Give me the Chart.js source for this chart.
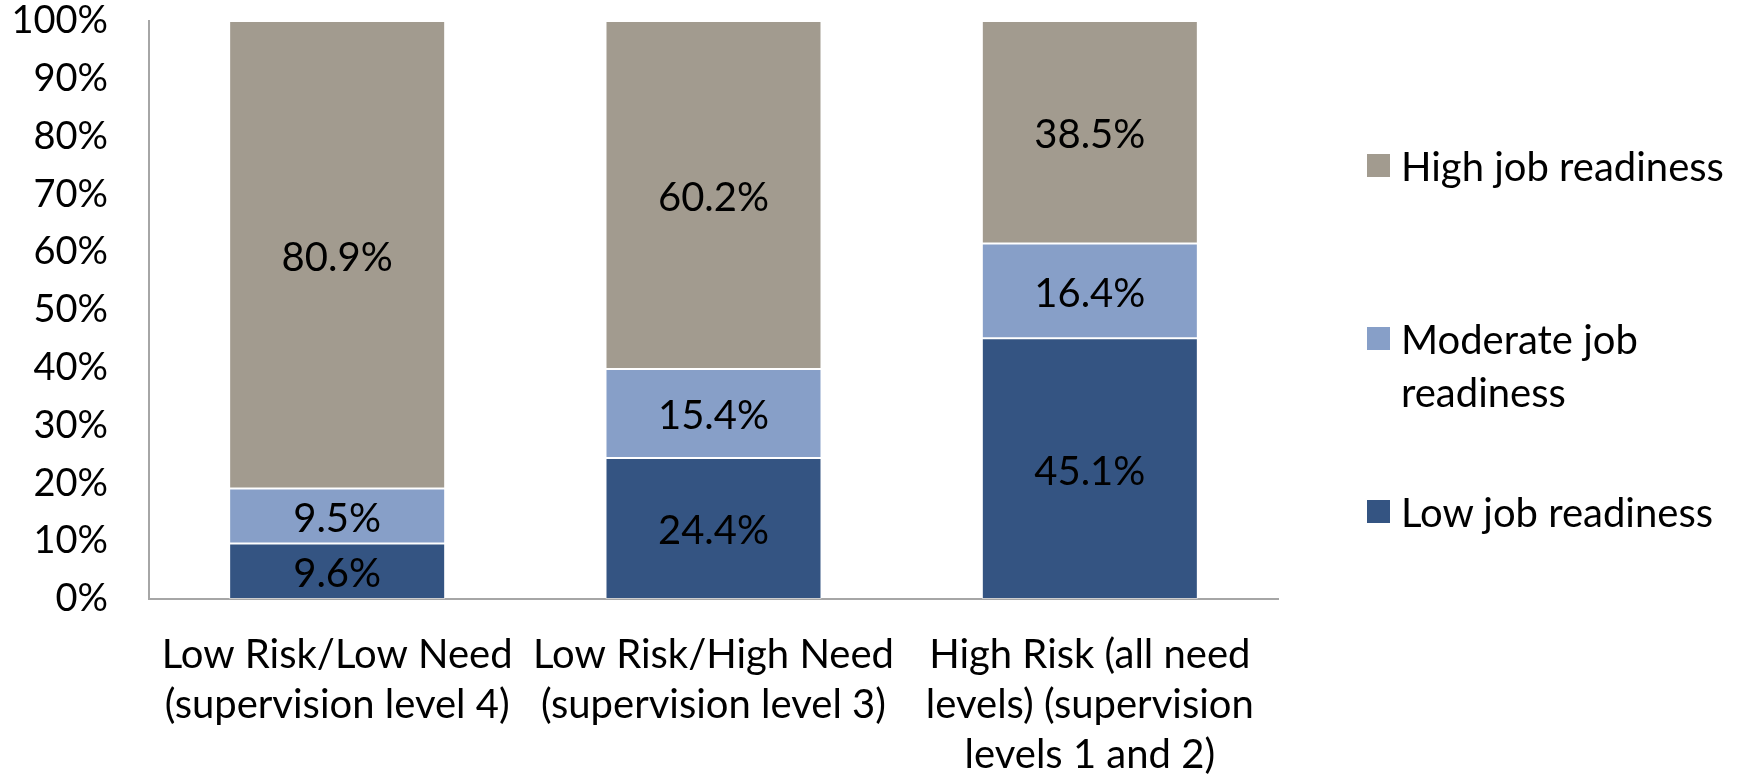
<!DOCTYPE html>
<html>
<head>
<meta charset="utf-8">
<script src="https://cdn.jsdelivr.net/npm/chart.js@4"></script>
<style>
  html, body { margin: 0; padding: 0; background: #fff; }
  #wrap { position: relative; width: 1741px; height: 776px; }
  #c { position: absolute; left: 0; top: 0; }
  .lg { position: absolute; left: 1367px; font-family: Lato, "Open Sans", sans-serif; font-size: 40px; line-height: 53px; color: #000; }
  .lg .sw { position: absolute; left: 0; width: 23px; height: 23px; top: 14px; }
  .lg .tx { position: absolute; left: 34px; white-space: nowrap; }
</style>
</head>
<body>
<div id="wrap">
  <canvas id="c" width="1741" height="776"></canvas>
</div>
<script>
const categories = [
  ["Low Risk/Low Need", "(supervision level 4)"],
  ["Low Risk/High Need", "(supervision level 3)"],
  ["High Risk (all need", "levels) (supervision", "levels 1 and 2)"]
];
const seriesNames = ["Low job readiness", "Moderate job readiness", "High job readiness"];
const lowReady = [9.6, 24.4, 45.1];
const moderateReady = [9.5, 15.4, 16.4];
const highReady = [80.9, 60.2, 38.5];
const yTicks = [0, 10, 20, 30, 40, 50, 60, 70, 80, 90, 100];
const colors = ["#345482", "#879FC8", "#A29B8F"];

const FONT = 'Lato, "Open Sans", sans-serif';

const dataLabels = {
  id: 'dataLabels',
  afterDatasetsDraw(chart) {
    const ctx = chart.ctx;
    ctx.save();
    ctx.font = '40px ' + FONT;
    ctx.fillStyle = '#000';
    ctx.textAlign = 'center';
    ctx.textBaseline = 'middle';
    chart.data.datasets.forEach((ds, i) => {
      const meta = chart.getDatasetMeta(i);
      meta.data.forEach((el, j) => {
        const v = ds.data[j];
        const y = (el.y + el.base) / 2 + 3;
        ctx.fillText(v.toFixed(1) + '%', el.x, y);
      });
    });
    ctx.restore();
  }
};

const chart = new Chart(document.getElementById('c'), {
  type: 'bar',
  data: {
    labels: categories,
    datasets: [
      { label: seriesNames[0], data: lowReady, backgroundColor: colors[0] },
      { label: seriesNames[1], data: moderateReady, backgroundColor: colors[1] },
      { label: seriesNames[2], data: highReady, backgroundColor: colors[2] }
    ].map(d => Object.assign(d, { borderColor: 'rgba(255,255,255,0.45)', borderWidth: 1, borderSkipped: false, barPercentage: 0.574, categoryPercentage: 1 }))
  },
  options: {
    responsive: false,
    animation: false,
    devicePixelRatio: 1,
    layout: { padding: { left: 0, right: 463, top: 21, bottom: 0 } },
    plugins: { legend: { display: false }, tooltip: { enabled: false } },
    scales: {
      x: {
        stacked: true,
        grid: { display: false, drawTicks: false },
        border: { display: true, color: '#a6a6a6', width: 2 },
        ticks: { color: '#000', font: { family: FONT, size: 40, lineHeight: 1.25 }, padding: 31, maxRotation: 0, autoSkip: false },
        afterFit(s) { s.height = 177; s.paddingLeft = 0; s.paddingRight = 0; }
      },
      y: {
        stacked: true,
        min: 0, max: 100,
        grid: { display: false, drawTicks: false },
        border: { display: true, color: '#a6a6a6', width: 2 },
        afterBuildTicks(s) { s.ticks = yTicks.map(v => ({ value: v })); },
        ticks: { color: '#000', font: { family: FONT, size: 38 }, padding: 41, callback: v => v + '%' },
        afterFit(s) { s.width = 149; s.paddingTop = 0; s.paddingBottom = 0; }
      }
    }
  },
  plugins: [dataLabels]
});

// HTML legend built from the dataset definitions (reverse order, as in the reference)
const legendPos = [
  { top: 486, lines: ["Low job readiness"] },
  { top: 313, lines: ["Moderate job", "readiness"] },
  { top: 140, lines: ["High job readiness"] }
];
const wrap = document.getElementById('wrap');
chart.data.datasets.forEach((ds, i) => {
  const d = document.createElement('div');
  d.className = 'lg';
  d.style.top = legendPos[i].top + 'px';
  const sw = document.createElement('div');
  sw.className = 'sw';
  sw.style.background = ds.backgroundColor;
  const tx = document.createElement('div');
  tx.className = 'tx';
  tx.innerHTML = legendPos[i].lines.join('<br>');
  d.appendChild(sw); d.appendChild(tx);
  wrap.appendChild(d);
});
</script>
</body>
</html>
